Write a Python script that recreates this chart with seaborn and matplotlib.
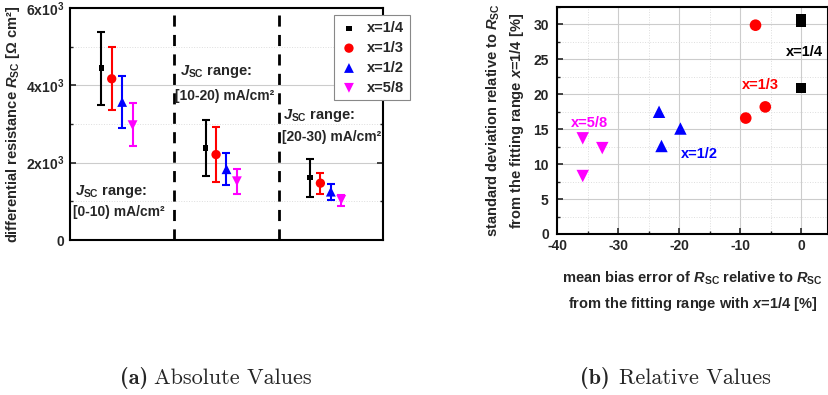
import numpy as np
import pandas as pd
import matplotlib
matplotlib.use('Agg')
import matplotlib.pyplot as plt
from matplotlib.ticker import MultipleLocator, FuncFormatter
import seaborn as sns

sns.set_theme(style='white')
plt.rcParams['font.family'] = ['Liberation Sans', 'DejaVu Sans']
plt.rcParams['font.weight'] = 'bold'
plt.rcParams['axes.unicode_minus'] = False
plt.rcParams['mathtext.fontset'] = 'custom'
plt.rcParams['mathtext.rm'] = 'Liberation Sans:bold'
plt.rcParams['mathtext.it'] = 'Liberation Sans:bold:italic'
plt.rcParams['mathtext.bf'] = 'Liberation Sans:bold'

# ---- data: panel (a), absolute R_sc per J_sc range ----
series = ['x=1/4', 'x=1/3', 'x=1/2', 'x=5/8']
ranges = ['[0-10) mA/cm²', '[10-20) mA/cm²', '[20-30) mA/cm²']
rsc_mean = {
    'x=1/4': [4450, 2380, 1610],
    'x=1/3': [4170, 2210, 1470],
    'x=1/2': [3570, 1830, 1250],
    'x=5/8': [2970, 1520, 1040],
}
rsc_low = {
    'x=1/4': [3500, 1650, 1100],
    'x=1/3': [3370, 1490, 1180],
    'x=1/2': [2890, 1410, 1040],
    'x=5/8': [2430, 1200, 890],
}
rsc_high = {
    'x=1/4': [5380, 3110, 2100],
    'x=1/3': [4990, 2920, 1730],
    'x=1/2': [4230, 2240, 1440],
    'x=5/8': [3540, 1840, 1160],
}

# ---- data: panel (b), relative values ----
mbe = {
    'x=1/4': [0.0, 0.0, 0.0],
    'x=1/3': [-7.5, -5.9, -9.1],
    'x=1/2': [-23.3, -19.8, -22.9],
    'x=5/8': [-35.8, -32.6, -35.8],
}
sdev = {
    'x=1/4': [30.3, 30.8, 20.9],
    'x=1/3': [29.9, 18.2, 16.6],
    'x=1/2': [17.5, 15.1, 12.6],
    'x=5/8': [13.7, 12.3, 8.3],
}

colors = {'x=1/4': 'black', 'x=1/3': 'red', 'x=1/2': 'blue', 'x=5/8': 'magenta'}
markers = {'x=1/4': 's', 'x=1/3': 'o', 'x=1/2': '^', 'x=5/8': 'v'}
size_a = {'x=1/4': 14, 'x=1/3': 45, 'x=1/2': 50, 'x=5/8': 50}
size_b = {'x=1/4': 50, 'x=1/3': 70, 'x=1/2': 80, 'x=5/8': 80}
offset = {'x=1/4': 0.3, 'x=1/3': 0.4, 'x=1/2': 0.5, 'x=5/8': 0.6}

rows = []
for s in series:
    for i in range(3):
        rows.append(dict(series=s, pos=i + offset[s], rsc=rsc_mean[s][i],
                         lo=rsc_mean[s][i] - rsc_low[s][i], hi=rsc_high[s][i] - rsc_mean[s][i],
                         mbe=mbe[s][i], sd=sdev[s][i]))
df = pd.DataFrame(rows)

fig = plt.figure(figsize=(8.29, 3.95), dpi=100)
ax1 = fig.add_axes([0.0844, 0.3924, 0.3776, 0.5873])
ax2 = fig.add_axes([0.672, 0.4076, 0.327, 0.5746])

# ---- panel (a) ----
for s in series:
    d = df[df.series == s]
    ax1.errorbar(d.pos, d.rsc, yerr=[d.lo, d.hi], fmt='none', ecolor=colors[s],
                 elinewidth=1.5, capsize=3, capthick=1.5, zorder=3)
    sns.scatterplot(data=d, x='pos', y='rsc', ax=ax1, color=colors[s], marker=markers[s],
                    s=size_a[s], edgecolor='none', label=s, zorder=4)

for xv in [1, 2]:
    ax1.axvline(xv, color='black', lw=2, ls=(0, (4, 3)), zorder=2)

ax1.set_xlim(0, 3)
ax1.set_ylim(0, 6000)
ax1.set_xticks([])
ax1.yaxis.set_major_locator(MultipleLocator(2000))
ax1.yaxis.set_minor_locator(MultipleLocator(1000))
ax1.yaxis.set_major_formatter(FuncFormatter(
    lambda v, p: '0' if v == 0 else f'{int(v / 1000)}x10$^{{3}}$'))
ax1.grid(axis='y', which='major', color='#cccccc', lw=0.8)
ax1.grid(axis='y', which='minor', color='#dddddd', lw=0.7, ls=':')
ax1.tick_params(axis='y', which='both', direction='in', left=True, right=True,
                labelsize=10, pad=4)
ax1.tick_params(axis='y', which='major', length=4, width=1.2)
ax1.tick_params(axis='y', which='minor', length=2, width=1)
for sp in ax1.spines.values():
    sp.set_color('black')
    sp.set_linewidth(1.5)
ax1.set_xlabel('')
ax1.set_ylabel('differential resistance $R_\\mathrm{SC}$ [Ω cm²]', fontsize=10.5,
               fontweight='bold', labelpad=3)

lab_pos = [(0.05, 1250, 0.03, 730), (1.05, 4360, 1.01, 3730), (2.04, 3210, 2.03, 2660)]
for (x1, y1, x2, y2), r in zip(lab_pos, ranges):
    ax1.text(x1, y1, '$J_\\mathrm{SC}$ range:', fontsize=10.5, va='center', ha='left')
    ax1.text(x2, y2, r, fontsize=10, fontweight='bold', va='center', ha='left')

leg = ax1.legend(loc='upper right', bbox_to_anchor=(1.11, 1.0), fontsize=10.5,
                 frameon=True, fancybox=False, edgecolor='#888888', framealpha=1,
                 handletextpad=0.6, labelspacing=0.4, borderpad=0.4, handlelength=1.3)
leg.get_frame().set_linewidth(0.8)
leg.set_zorder(10)
for t in leg.get_texts():
    t.set_fontweight('bold')

# ---- panel (b) ----
for s in series:
    d = df[df.series == s]
    sns.scatterplot(data=d, x='mbe', y='sd', ax=ax2, color=colors[s], marker=markers[s],
                    s=size_b[s], edgecolor='none', zorder=4, legend=False)

lab_b = {'x=1/4': (0.5, 26.0), 'x=1/3': (-6.7, 21.4), 'x=1/2': (-16.7, 11.5), 'x=5/8': (-34.7, 15.9)}
for s in series:
    ax2.text(lab_b[s][0], lab_b[s][1], s, color=colors[s], fontsize=10.5, fontweight='bold',
             ha='center', va='center')

ax2.set_xlim(-40, 4.4)
ax2.set_ylim(0, 32.5)
ax2.xaxis.set_major_locator(MultipleLocator(10))
ax2.xaxis.set_minor_locator(MultipleLocator(5))
ax2.yaxis.set_major_locator(MultipleLocator(5))
ax2.yaxis.set_minor_locator(MultipleLocator(2.5))
ax2.grid(which='major', color='#cccccc', lw=0.8)
ax2.grid(which='minor', color='#dddddd', lw=0.7, ls=':')
ax2.tick_params(which='both', direction='in', labelsize=10, bottom=True, left=True)
ax2.tick_params(axis='y', which='major', pad=6)
ax2.tick_params(which='major', length=4, width=1.2)
ax2.tick_params(which='minor', length=2, width=1)
for sp in ax2.spines.values():
    sp.set_color('black')
    sp.set_linewidth(1.5)
ax2.set_xlabel('mean bias error of $R_\\mathrm{SC}$ relative to $R_\\mathrm{SC}$\n'
               'from the fitting range with $x$=1/4 [%]', fontsize=10.5, fontweight='bold',
               linespacing=1.6, labelpad=12)
ax2.set_ylabel('standard deviation relative to $R_\\mathrm{SC}$\n'
               'from the fitting range $x$=1/4 [%]', fontsize=10.5, fontweight='bold',
               linespacing=1.45, labelpad=5)

# ---- captions ----
cap_y = 1 - 378 / 395
fig.text(120 / 829, cap_y, '(a)', family='cmb10', fontsize=16, ha='left', va='center')
fig.text(154 / 829, cap_y, 'Absolute Values', family='cmr10', fontsize=16,
         ha='left', va='center')
fig.text(580 / 829, cap_y, '(b)', family='cmb10', fontsize=16, ha='left', va='center')
fig.text(619 / 829, cap_y, 'Relative Values', family='cmr10', fontsize=16,
         ha='left', va='center')

fig.savefig('out.png', dpi=100)
